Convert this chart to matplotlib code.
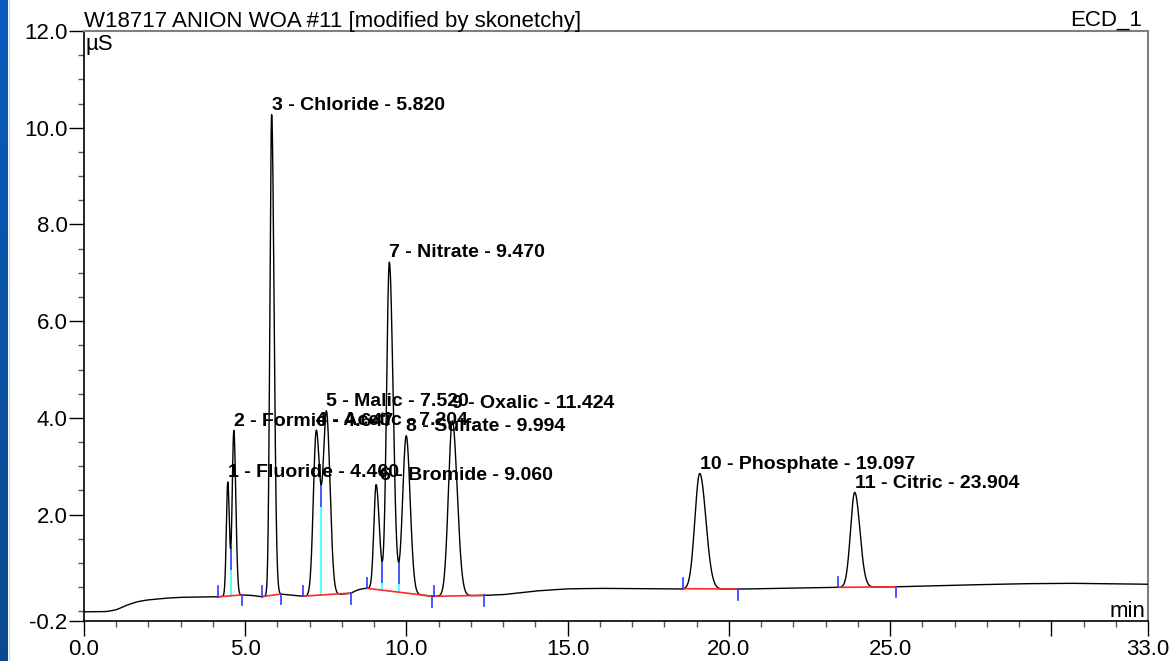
import numpy as np
import matplotlib.pyplot as plt
from matplotlib.lines import Line2D
from matplotlib.colors import LinearSegmentedColormap

plt.rcParams['font.family'] = ['Liberation Sans', 'DejaVu Sans']

# Peak table
names = ['Fluoride', 'Formic', 'Chloride', 'Acetic', 'Malic', 'Bromide',
         'Nitrate', 'Sulfate', 'Oxalic', 'Phosphate', 'Citric']
ret_times = [4.460, 4.647, 5.820, 7.204, 7.520, 9.060, 9.470, 9.994, 11.424, 19.097, 23.904]
apex_uS = [2.67, 3.74, 10.27, 3.72, 4.09, 2.62, 7.22, 3.63, 3.94, 2.85, 2.46]
sigma_left = [0.045, 0.050, 0.055, 0.090, 0.100, 0.070, 0.085, 0.110, 0.120, 0.150, 0.130]
sigma_right = [0.050, 0.060, 0.075, 0.110, 0.110, 0.100, 0.115, 0.120, 0.150, 0.190, 0.160]

# Drift of the detector signal (min, µS)
drift_t = [0.0, 0.7, 1.0, 1.3, 1.6, 1.9, 2.5, 3.0, 4.17, 4.89, 5.2, 5.53, 6.11, 6.78, 7.9,
           8.27, 8.5, 8.77, 10.8, 12.42, 13.0, 14.0, 15.0, 16.0, 18.59, 20.29, 23.4, 25.19,
           27.0, 29.0, 30.5, 33.0]
drift_v = [-0.01, -0.005, 0.03, 0.12, 0.19, 0.23, 0.27, 0.29, 0.30, 0.34, 0.33, 0.30, 0.357,
           0.31, 0.35, 0.37, 0.45, 0.48, 0.31, 0.33, 0.345, 0.42, 0.465, 0.475, 0.46, 0.46,
           0.495, 0.507, 0.54, 0.57, 0.58, 0.56]

# Integration windows (start, end) and peak pairs split by a drop line
windows = [(4.17, 4.89), (5.53, 6.11), (6.78, 8.27), (8.77, 10.80),
           (10.87, 12.42), (18.59, 20.29), (23.40, 25.19)]
drops = [(0, 1), (3, 4), (5, 6), (6, 7)]

x_ticks = [0, 5, 10, 15, 20, 25, 30, 33]
x_labels = ['0.0', '5.0', '10.0', '15.0', '20.0', '25.0', '', '33.0']
y_ticks = [-0.2, 2, 4, 6, 8, 10, 12]

# build the trace
t = np.linspace(0, 33, 6601)
signal = np.interp(t, drift_t, drift_v)
for rt, ap, sl, sr in zip(ret_times, apex_uS, sigma_left, sigma_right):
    h = ap - np.interp(rt, drift_t, drift_v)
    s = np.where(t < rt, sl, sr)
    signal += h * np.exp(-0.5 * ((t - rt) / s) ** 2)
# soften the corners of the drift
kern = np.ones(41) / 41
smooth = np.convolve(np.pad(signal, 20, mode='edge'), kern, mode='valid')
drift_only = np.interp(t, drift_t, drift_v)
drift_smooth = np.convolve(np.pad(drift_only, 20, mode='edge'), kern, mode='valid')
signal = signal - drift_only + drift_smooth

fig = plt.figure(figsize=(11.71, 6.61), dpi=100)
W, H = 1171, 661

# blue strip on the left edge
strip = fig.add_axes([0, 0, 8 / W, 1])
grad = np.linspace(0, 1, 256).reshape(-1, 1)
strip.imshow(grad, aspect='auto', cmap=LinearSegmentedColormap.from_list('s', ['#0a5cbf', '#0b4a8c']))
strip.axis('off')
fig.add_artist(Line2D([8.5 / W] * 2, [0, 1], color='#d5d9e0', lw=1))

ax = fig.add_axes([84 / W, 40 / H, (1148 - 84) / W, (621 - 31) / H])
ax.plot(t, signal, color='black', lw=1.0, zorder=3)

# integration baselines with start/end ticks
tk = 0.216
for a, b in windows:
    ya = np.interp(a, t, signal)
    yb = np.interp(b, t, signal)
    ax.plot([a, b], [ya, yb], color='#ff2a2a', lw=1.2, zorder=4)
    ax.plot([a, a], [ya, ya + tk], color='#2a3aff', lw=1.2, zorder=5)
    ax.plot([b, b], [yb, yb - tk], color='#2a3aff', lw=1.2, zorder=5)

# drop lines between unresolved peaks
for i, j in drops:
    m = (t > ret_times[i]) & (t < ret_times[j])
    k = np.argmin(signal[m])
    td, yv = t[m][k], signal[m][k]
    for a, b in windows:
        if a <= td <= b:
            yb = np.interp(td, [a, b], [np.interp(a, t, signal), np.interp(b, t, signal)])
    ax.plot([td, td], [yb, yv - 0.43], color='#33ffff', lw=1.2, zorder=2)
    ax.plot([td, td], [yv - 0.43, yv], color='#2a3aff', lw=1.2, zorder=2)

# peak labels
nudge = {5: (3, 0), 8: (0, 6)}
for n, (name, rt) in enumerate(zip(names, ret_times)):
    dx, dy = nudge.get(n, (0, 0))
    ax.annotate(f'{n + 1} - {name} - {rt:.3f}', xy=(rt, np.interp(rt, t, signal)),
                xytext=(dx, 3.5 + dy), textcoords='offset points',
                ha='left', va='baseline', fontsize=14, fontweight='bold', zorder=6)

ax.set_xlim(0, 33)
ax.set_ylim(-0.2, 12.0)
ax.set_xticks(x_ticks, x_labels)
ax.set_xticks(np.arange(0, 34, 1), minor=True)
ax.set_yticks(y_ticks, [f'{v:.1f}' for v in y_ticks])
ax.set_yticks(np.arange(0, 12.01, 0.5), minor=True)
ax.tick_params(which='major', direction='out', length=10.8, width=1, labelsize=16, pad=1)
ax.tick_params(which='minor', direction='out', length=4.5, width=1, color='#555555')
ax.tick_params(axis='x', which='major', pad=2)

for side in ['left', 'bottom']:
    ax.spines[side].set_linewidth(1.2)
for side in ['top', 'right']:
    ax.spines[side].set_color('#7f7f7f')
    ax.spines[side].set_linewidth(1.5)

ax.annotate('W18717 ANION WOA #11 [modified by skonetchy]', xy=(0, 1), xycoords='axes fraction',
            xytext=(0, 3), textcoords='offset points', ha='left', va='baseline', fontsize=16)
ax.annotate('ECD_1', xy=(1, 1), xycoords='axes fraction',
            xytext=(-4.5, 3.5), textcoords='offset points', ha='right', va='baseline', fontsize=16)
ax.annotate('µS', xy=(0, 1), xycoords='axes fraction',
            xytext=(1, -14), textcoords='offset points', ha='left', va='baseline', fontsize=16)
ax.annotate('min', xy=(1, 0), xycoords='axes fraction',
            xytext=(-1.5, 3), textcoords='offset points', ha='right', va='baseline', fontsize=16)

fig.savefig('out.png', dpi=100)
